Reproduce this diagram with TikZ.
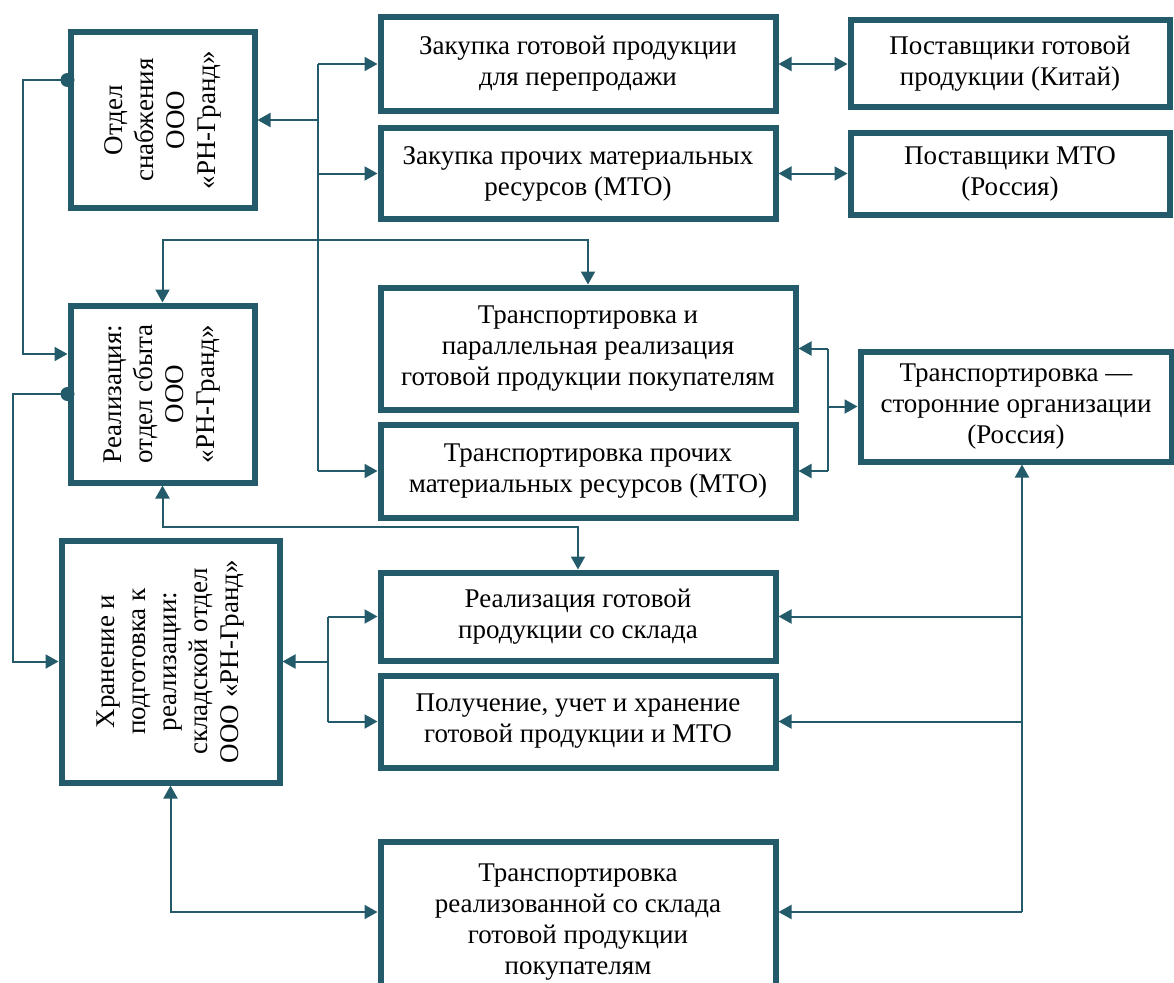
\documentclass[tikz,border=0pt]{standalone}
\usepackage{fontspec}
\setmainfont{Liberation Serif}
\usetikzlibrary{arrows.meta,positioning,calc}
\definecolor{morskoy}{RGB}{35,91,106}

\tikzset{
  blok/.style={draw=morskoy, line width=6pt, fill=white, align=center, inner sep=2pt,
    font=\fontsize{27}{31}\selectfont},
  vblok/.style={blok, rotate=90},
  liniya/.style={line width=2pt, morskoy},
  svyaz/.style={liniya, -{Triangle[length=13pt,width=14pt]}},
  dvustor/.style={liniya, {Triangle[length=13pt,width=14pt]}-{Triangle[length=13pt,width=14pt]}},
}

\begin{document}
\begin{tikzpicture}[x=1pt, y=-1pt]
\useasboundingbox (0,0) rectangle (1174,982);

% left column (rotated: north = left side, south = right side, east = top, west = bottom)
\node[vblok, minimum width=176pt, minimum height=184pt] (snab) at (162.5,120) {Отдел\\снабжения\\ООО\\«РН-Гранд»};
\node[vblok, minimum width=177pt, minimum height=184pt] (sbyt) at (162.5,394) {Реализация:\\отдел сбыта\\ООО\\«РН-Гранд»};
\node[vblok, minimum width=242pt, minimum height=218pt] (sklad) at (170.5,661.5) {Хранение и\\подготовка к\\реализации:\\складской отдел\\ООО «РН-Гранд»};

% middle column
\node[blok, minimum width=395pt, minimum height=93pt] (zak1) at (578,64) {Закупка готовой продукции\\для перепродажи};
\node[blok, minimum width=395pt, minimum height=91pt] (zak2) at (578,173.5) {Закупка прочих материальных\\ресурсов (МТО)};
\node[blok, minimum width=415pt, minimum height=122pt] (tr1) at (588,348.5) {Транспортировка и\\параллельная реализация\\готовой продукции покупателям};
\node[blok, minimum width=415pt, minimum height=93pt] (tr2) at (588,471) {Транспортировка прочих\\материальных ресурсов (МТО)};
\node[blok, minimum width=395pt, minimum height=88pt] (real1) at (578,616.5) {Реализация готовой\\продукции со склада};
\node[blok, minimum width=395pt, minimum height=92pt] (real2) at (578,721.5) {Получение, учет и хранение\\готовой продукции и МТО};
\node[blok, minimum width=395pt, minimum height=160pt] (tr3) at (578,922) {Транспортировка\\реализованной со склада\\готовой продукции\\покупателям};

% right column
\node[blok, minimum width=319pt, minimum height=86pt] (post1) at (1010,63.5) {Поставщики готовой\\продукции (Китай)};
\node[blok, minimum width=319pt, minimum height=82pt] (post2) at (1010,173.5) {Поставщики МТО\\(Россия)};
\node[blok, minimum width=311pt, minimum height=110pt] (ts) at (1016,406.5) {Транспортировка —\\сторонние организации\\(Россия)};

% bus lines
\coordinate (lev1) at (23,0);
\coordinate (lev2) at (13,0);
\coordinate (shina1) at (318,0);
\coordinate (shina2) at (328,0);
\coordinate (shina3) at (1022,0);
\coordinate (shina4) at (828,0);
\coordinate (verh) at (0,240);
\coordinate (niz) at (0,527);
\coordinate (niz2) at (0,912);
\coordinate (tochka1) at ($(snab.north)+(0,-40)$);
\coordinate (tochka2) at (sbyt.north);

% supply department
\draw[liniya] (zak1.west -| shina1) -- (tr2.west -| shina1);
\draw[svyaz] (snab.south -| shina1) -- (snab.south);
\foreach \c in {zak1,zak2,tr2}
  \draw[svyaz] (\c.west -| shina1) -- (\c.west);
\draw[dvustor] (zak1.east) -- (zak1.east -| post1.west);
\draw[dvustor] (zak2.east) -- (zak2.east -| post2.west);

% left side links
\draw[svyaz] (tochka1) -- (tochka1 -| lev1) |- ($(sbyt.north)+(0,-40)$);
\draw[svyaz] (tochka2) -- (tochka2 -| lev2) |- (sklad.north);
\fill[morskoy] (tochka1) circle (7pt);
\fill[morskoy] (tochka2) circle (7pt);

% sales department
\draw[dvustor] (sbyt.east) -- (sbyt.east |- verh) -| (tr1.north);
\draw[dvustor] (sbyt.west) -- (sbyt.west |- niz) -| (real1.north);

% warehouse
\draw[liniya] (real1.west -| shina2) -- (real2.west -| shina2);
\draw[svyaz] (sklad.south -| shina2) -- (sklad.south);
\foreach \c in {real1,real2}
  \draw[svyaz] (\c.west -| shina2) -- (\c.west);
\draw[dvustor] (sklad.west) |- (tr3.west |- niz2);

% third-party transport
\draw[svyaz] (niz2 -| shina3) -- (ts.south -| shina3);
\foreach \c in {real1,real2}
  \draw[svyaz] (\c.east -| shina3) -- (\c.east);
\draw[svyaz] (niz2 -| shina3) -- (tr3.east |- niz2);
\draw[liniya] (tr1.east -| shina4) -- (tr2.east -| shina4);
\draw[svyaz] (ts.west -| shina4) -- (ts.west);
\foreach \c in {tr1,tr2}
  \draw[svyaz] (\c.east -| shina4) -- (\c.east);
\end{tikzpicture}
\end{document}
